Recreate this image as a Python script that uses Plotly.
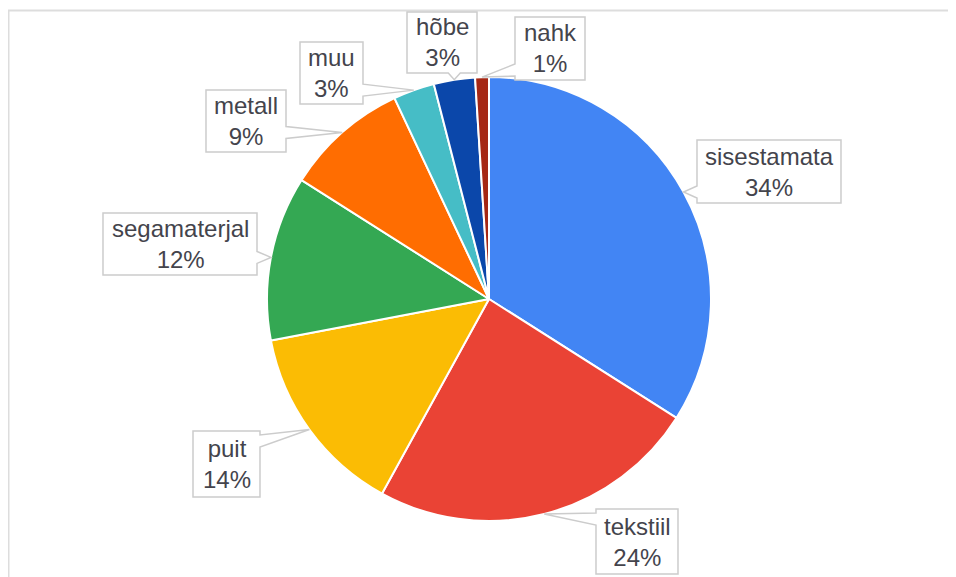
import math
import plotly.graph_objects as go

OFF = 8  # default page margin of the html body
W, H = 956 - OFF, 577 - OFF

categories = ["sisestamata", "tekstiil", "puit", "segamaterjal", "metall", "muu", "hõbe", "nahk"]
values = [34, 24, 14, 12, 9, 3, 3, 1]
colors = ["#4285F4", "#EA4335", "#FBBC04", "#34A853", "#FF6D01", "#46BDC6", "#0B47AA", "#A52714"]

# label box layout (pixel boxes: left, top, right, bottom) and side of pointer
boxes = [
    (697, 140, 841, 203, "left"),
    (596, 509, 678, 574, "left"),
    (193, 431, 260, 497, "right"),
    (103, 213, 257, 275, "right"),
    (206, 90, 286, 152, "right"),
    (300, 42, 363, 104, "right"),
    (407, 12, 477, 73, "bottom"),
    (515, 17, 585, 80, "left"),
]

# pie geometry (pixels)
CX, CY, R = 489, 299, 222

def px(x):
    return (x - OFF) / W

def py(y):
    return 1 - (y - OFF) / H

fig = go.Figure()
fig.add_trace(go.Pie(
    labels=categories,
    values=values,
    sort=False,
    direction="clockwise",
    rotation=0,
    marker=dict(colors=colors, line=dict(color="white", width=2)),
    textinfo="none",
    hoverinfo="label+percent",
    showlegend=False,
    domain=dict(x=[px(CX - R), px(CX + R)], y=[py(CY + R), py(CY - R)]),
))

shapes = []
annotations = []
total = sum(values)
cum = 0.0
for cat, v, (l, t, r, b, side) in zip(categories, values, boxes):
    mid = (cum + v / 2) / total * 2 * math.pi
    cum += v
    tx = CX + R * math.sin(mid)
    ty = CY - R * math.cos(mid)
    hw = 6
    m = 10
    if side in ("left", "right"):
        c = min(max(ty, t + m), b - m)
        if side == "left":
            pts = [(l, t), (r, t), (r, b), (l, b), (l, c + hw), (tx, ty), (l, c - hw)]
        else:
            pts = [(l, t), (r, t), (r, c - hw), (tx, ty), (r, c + hw), (r, b), (l, b)]
    else:
        c = min(max(tx, l + m), r - m)
        pts = [(l, t), (r, t), (r, b), (c + hw, b), (tx, ty), (c - hw, b), (l, b)]
    path = "M " + " L ".join(f"{px(x):.5f},{py(y):.5f}" for x, y in pts) + " Z"
    shapes.append(dict(type="path", xref="paper", yref="paper", path=path,
                       line=dict(color="#cccccc", width=1.5), fillcolor="white", layer="above"))
    pct = round(v / total * 100)
    annotations.append(dict(
        x=px((l + r) / 2), y=py((t + b) / 2), xref="paper", yref="paper",
        text=f"{cat}<br>{pct}%", showarrow=False, xanchor="center", yanchor="middle",
        align="center", font=dict(family="Liberation Sans, Arial, sans-serif", size=24, color="#44444c"),
    ))

# outer chart border
shapes.insert(0, dict(type="rect", xref="paper", yref="paper",
                      x0=px(8.5), y0=-0.05, x1=1.05, y1=py(10.5),
                      line=dict(color="#dddddd", width=2), fillcolor="rgba(0,0,0,0)", layer="below"))

fig.update_layout(
    width=W, height=H,
    margin=dict(l=0, r=0, t=0, b=0),
    paper_bgcolor="white", plot_bgcolor="white",
    shapes=shapes, annotations=annotations,
)

fig.write_html("out.html")
